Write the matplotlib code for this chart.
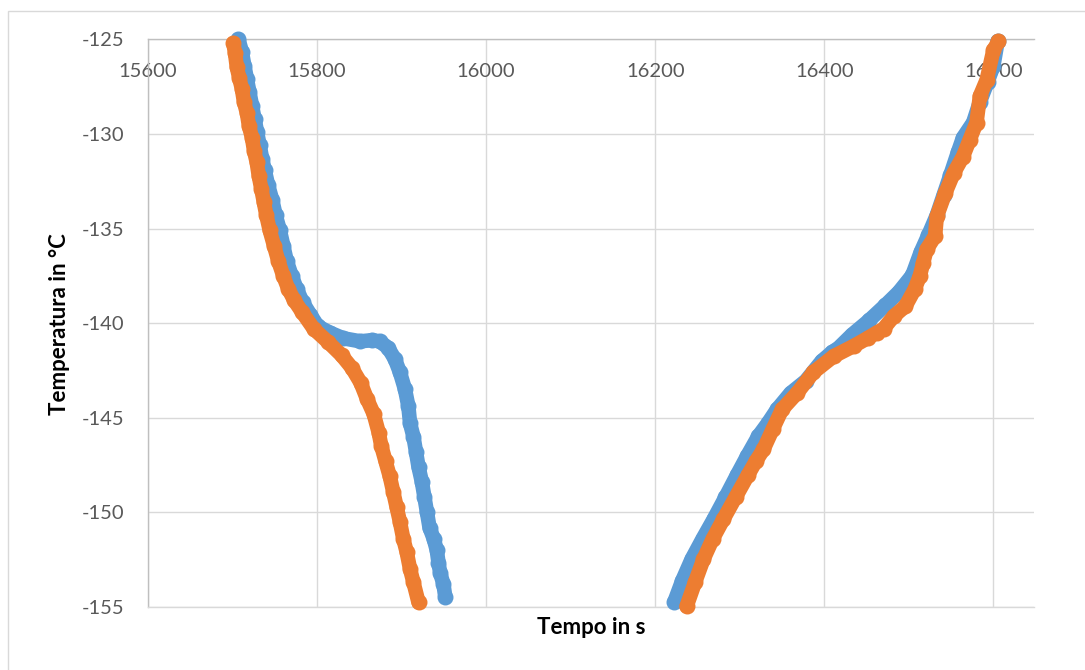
import matplotlib
matplotlib.use("Agg")
import matplotlib.pyplot as plt
import matplotlib.transforms as mtransforms
from matplotlib.patches import Rectangle

# cooling run (left branch) and heating run (right branch), time in s, temperature in degC
blue_cool_t = [15707, 15711, 15714, 15717, 15720, 15723, 15726, 15729, 15732, 15735,
               15738, 15742, 15747, 15751, 15756, 15760, 15764, 15770, 15776, 15783,
               15792, 15801, 15815, 15831, 15851, 15865, 15874, 15884, 15892, 15898,
               15904, 15908, 15910, 15914, 15917, 15920, 15924, 15927, 15930, 15933,
               15938, 15941.6, 15943.6, 15945.6, 15949.5, 15951.6]
blue_cool_T = [-125.0, -125.65, -126.4, -127.1, -127.8, -128.5, -129.2, -129.9, -130.6, -131.3,
               -131.9, -132.7, -133.5, -134.3, -135.1, -135.9, -136.7, -137.5, -138.2, -138.9,
               -139.55, -140.17, -140.5, -140.8, -140.96, -140.9, -140.96, -141.3, -141.9, -142.6,
               -143.5, -144.4, -145.3, -146.0, -146.8, -147.6, -148.4, -149.2, -150.0, -150.8,
               -151.4, -152.0, -152.65, -153.2, -153.8, -154.45]

orange_cool_t = [15701, 15703, 15705, 15708, 15711, 15713.5, 15717, 15719.5, 15723, 15725.5,
                 15728.6, 15731, 15734, 15737, 15740, 15744, 15749, 15754, 15760, 15766,
                 15773, 15782, 15796, 15813, 15829, 15841, 15851.5, 15859, 15867, 15873,
                 15876, 15881, 15886, 15890, 15894, 15898, 15902, 15906, 15910, 15914, 15920]
orange_cool_T = [-125.2, -125.75, -126.45, -127.06, -127.6, -128.3, -128.9, -129.6, -130.2, -130.9,
                 -131.5, -132.2, -132.9, -133.6, -134.3, -135.1, -135.9, -136.7, -137.5, -138.2,
                 -138.8, -139.4, -140.3, -141.0, -141.7, -142.36, -143.15, -144.0, -144.8, -145.8,
                 -146.5, -147.3, -148.1, -148.9, -149.7, -150.5, -151.4, -152.1, -153.0, -153.7, -154.76]

blue_heat_t = [16222.5, 16232, 16243, 16256, 16269, 16283, 16297, 16309, 16322, 16333,
               16344, 16360, 16378, 16397, 16409, 16417, 16433, 16453, 16472, 16488,
               16504, 16514, 16523, 16533, 16541, 16549, 16558, 16564, 16576, 16584,
               16593, 16600, 16605]
blue_heat_T = [-154.74, -153.6, -152.48, -151.4, -150.37, -149.2, -148.0, -147.0, -145.97, -145.3,
               -144.56, -143.7, -143.05, -142.0, -141.54, -141.3, -140.6, -139.85, -139.06, -138.36,
               -137.47, -136.25, -135.35, -134.3, -133.24, -132.18, -130.97, -130.2, -129.4, -128.3,
               -127.26, -126.4, -125.1]

orange_heat_t = [16237, 16247, 16257, 16268, 16280.5, 16295, 16310, 16319, 16328, 16339,
                 16350, 16368, 16387, 16411, 16435, 16452, 16462, 16470, 16482, 16496,
                 16507, 16513, 16517, 16521, 16531, 16533, 16543, 16553, 16564, 16572,
                 16580, 16584, 16592, 16600, 16606]
orange_heat_T = [-154.97, -153.7, -152.48, -151.4, -150.37, -149.2, -148.0, -147.3, -146.67, -145.6,
                 -144.56, -143.68, -142.6, -141.75, -141.2, -140.77, -140.5, -140.3, -139.64, -139.1,
                 -138.2, -137.5, -136.8, -136.1, -135.4, -134.36, -133.13, -132.07, -131.2, -130.3,
                 -129.4, -128.0, -127.15, -125.57, -125.1]

x_ticks = [15600, 15800, 16000, 16200, 16400, 16600]
y_ticks = [-125, -130, -135, -140, -145, -150, -155]

BLUE = "#5b9bd5"
ORANGE = "#ed7d31"

plt.rcParams["font.family"] = ["Lato", "DejaVu Sans"]
plt.rcParams["axes.unicode_minus"] = False

fig = plt.figure(figsize=(10.85, 6.7), dpi=100)
fig.patches.append(Rectangle((8 / 1085, -0.1), 1.2, 1 - 11 / 670 + 0.1,
                             transform=fig.transFigure, fill=False,
                             edgecolor="#d9d9d9", linewidth=1.0))
ax = fig.add_axes([148 / 1085, 1 - 607 / 670, (1034 - 148) / 1085, (607 - 39.3) / 670])

# blue under orange, thick line + round markers to mimic the dense excel markers
for t, T, c, z in [(blue_cool_t, blue_cool_T, BLUE, 3), (blue_heat_t, blue_heat_T, BLUE, 3),
                   (orange_cool_t, orange_cool_T, ORANGE, 4), (orange_heat_t, orange_heat_T, ORANGE, 4)]:
    ax.plot(t, T, color=c, linewidth=10.5, solid_capstyle="round", solid_joinstyle="round",
            zorder=z, clip_on=False)
    ax.plot(t, T, "o", color=c, markersize=11.5, markeredgewidth=0, zorder=z, clip_on=False)

ax.set_xlim(15600, 16648)
ax.set_ylim(-155, -125)
ax.set_xticks(x_ticks)
ax.set_yticks(y_ticks)
ax.grid(True, color="#d9d9d9", linewidth=1.0, zorder=0)
ax.set_axisbelow(True)

ax.spines["right"].set_visible(False)
ax.spines["left"].set_color("#bfbfbf")
ax.spines["top"].set_color("#bfbfbf")
ax.spines["bottom"].set_color("#d9d9d9")
for s in ["left", "top", "bottom"]:
    ax.spines[s].set_linewidth(1.0)

ax.tick_params(axis="x", length=0, labelbottom=False)
ax.tick_params(axis="y", length=0, pad=17, labelsize=14.5, labelcolor="#595959")

# x labels sit just under the axis line at -125
trans = mtransforms.offset_copy(ax.get_xaxis_transform(), fig=fig, x=0, y=-32, units="dots")
for t in x_ticks:
    ax.text(t, 1, str(t), transform=trans, ha="center", va="center",
            fontsize=14.5, color="#595959", zorder=2)

fig.text(591 / 1085, 1 - 628 / 670, "Tempo in s", ha="center", va="center",
         fontsize=16, fontweight="bold")
fig.text(60 / 1085, 1 - 324 / 670, "Temperatura in °C", ha="center", va="center",
         rotation=90, fontsize=16, fontweight="bold")

fig.savefig("out.png", dpi=100)
